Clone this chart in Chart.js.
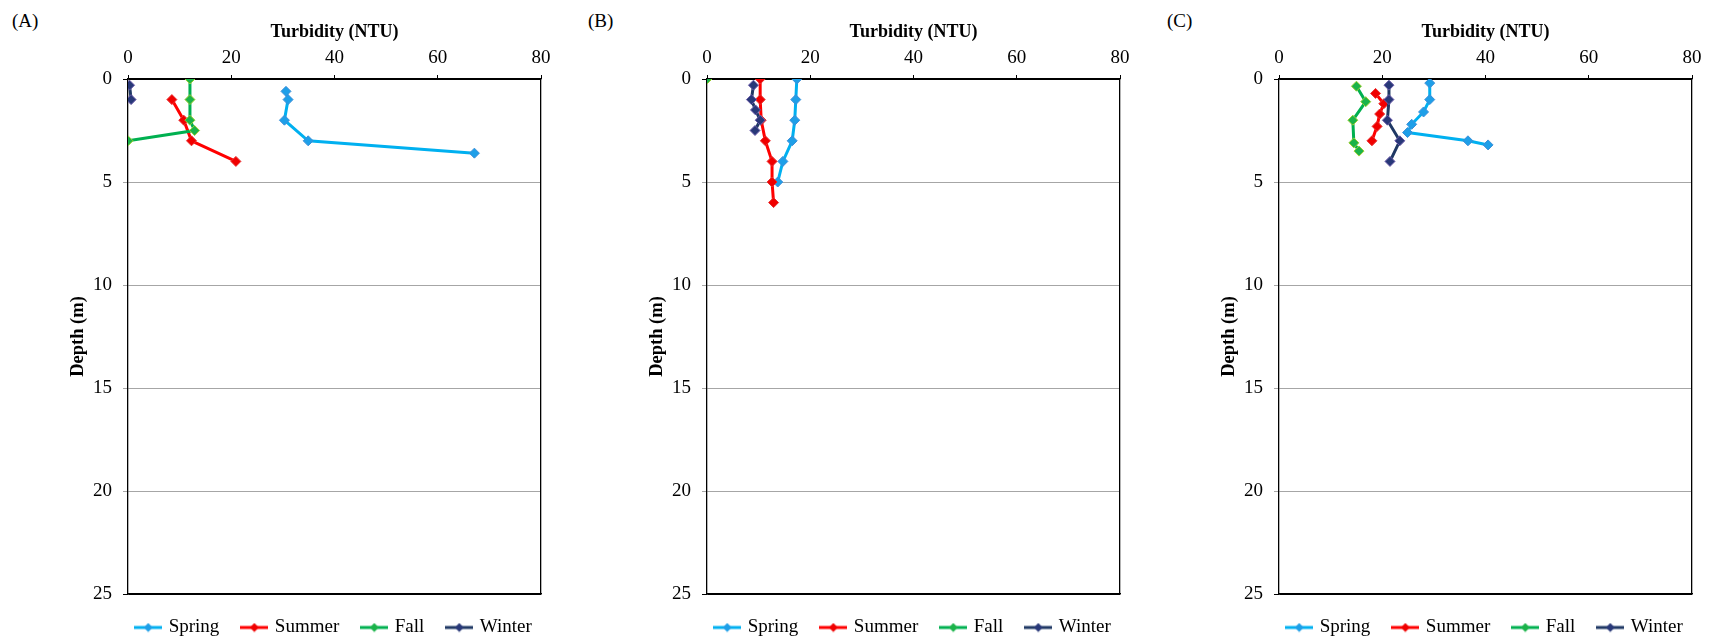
<!DOCTYPE html>
<html>
<head>
<meta charset="utf-8">
<script src="https://cdn.jsdelivr.net/npm/chart.js@4.4.1/dist/chart.umd.min.js"></script>
<style>
  body { margin: 0; background: #fff; width: 1711px; height: 641px; position: relative; overflow: hidden; font-family: "Liberation Serif", serif; }
  canvas { position: absolute; top: 0; }
  .lab { position: absolute; top: 11px; font-size: 19px; line-height: 19px; color: #000; }
</style>
</head>
<body>
<div class="lab" style="left:12px">(A)</div>
<div class="lab" style="left:588px">(B)</div>
<div class="lab" style="left:1167px">(C)</div>
<canvas id="chartA" width="559" height="641" style="left:0px"></canvas>
<canvas id="chartB" width="559" height="641" style="left:579px"></canvas>
<canvas id="chartC" width="559" height="641" style="left:1151px"></canvas>
<script>
const seasons = ['Spring', 'Summer', 'Fall', 'Winter'];
const turbidityTicks = [0, 20, 40, 60, 80];
const depthTicks = [0, 5, 10, 15, 20, 25];

// (A)
const springTurbA = [30.6, 31.0, 30.3, 34.9, 67.1];
const springDepthA = [0.6, 1, 2, 3, 3.6];
const summerTurbA = [8.5, 10.8, 12.3, 20.9];
const summerDepthA = [1, 2, 3, 4];
const fallTurbA = [12.0, 12.0, 12.0, 12.9, 0];
const fallDepthA = [0, 1, 2, 2.5, 3];
const winterTurbA = [0.3, 0.6];
const winterDepthA = [0.3, 1];

// (B)
const springTurbB = [17.4, 17.2, 17.0, 16.5, 14.7, 13.7];
const springDepthB = [0, 1, 2, 3, 4, 5];
const summerTurbB = [10.3, 10.3, 10.5, 11.3, 12.6, 12.6, 12.9];
const summerDepthB = [0, 1, 2, 3, 4, 5, 6];
const fallTurbB = [0];
const fallDepthB = [0];
const winterTurbB = [9.0, 8.6, 9.4, 10.3, 9.3];
const winterDepthB = [0.3, 1, 1.5, 2, 2.5];

// (C)
const springTurbC = [29.2, 29.2, 28.0, 25.7, 24.9, 36.6, 40.5];
const springDepthC = [0.2, 1, 1.6, 2.2, 2.6, 3, 3.2];
const summerTurbC = [18.7, 20.3, 19.5, 19.0, 18.0];
const summerDepthC = [0.7, 1.2, 1.7, 2.3, 3];
const fallTurbC = [15.0, 16.8, 14.3, 14.5, 15.5];
const fallDepthC = [0.35, 1.1, 2, 3.1, 3.5];
const winterTurbC = [21.3, 21.3, 21.0, 23.4, 21.5];
const winterDepthC = [0.3, 1, 2, 3, 4];

const lineColors = ['#00B0F0', '#FF0000', '#00B050', '#1F3864'];
const pointFills = ['#1E9FE8', '#F00000', '#1BB34A', '#283878'];
const pointEdges = ['#3C8FD8', '#E83030', '#9ACD32', '#6A5AA8'];
const FONT = '"Liberation Serif", "Times New Roman", serif';

function pts(turb, depth) {
  return turb.map((v, i) => ({ x: v, y: depth[i] }));
}

function legendIcon(i) {
  const c = document.createElement('canvas');
  c.width = 28; c.height = 10;
  const g = c.getContext('2d');
  g.strokeStyle = lineColors[i];
  g.lineWidth = 3;
  g.beginPath(); g.moveTo(0, 5); g.lineTo(28, 5); g.stroke();
  g.fillStyle = pointFills[i];
  g.beginPath(); g.moveTo(14, 0.5); g.lineTo(18.5, 5); g.lineTo(14, 9.5); g.lineTo(9.5, 5); g.closePath(); g.fill();
  return c;
}

// keep the legend centred under the plot area, not under the whole canvas
const centerLegend = {
  id: 'centerLegend',
  afterLayout(chart) {
    const l = chart.legend, ca = chart.chartArea;
    const half = (l.right - l.left) / 2, mid = (ca.left + ca.right) / 2;
    l.left = mid - half;
    l.right = mid + half;
  },
};

function makeChart(id, series) {
  const datasets = series.map((s, i) => ({
    label: seasons[i],
    data: pts(s[0], s[1]),
    showLine: true,
    borderColor: lineColors[i],
    backgroundColor: pointFills[i],
    borderWidth: 3,
    pointStyle: 'rectRot',
    pointRadius: 5,
    pointBackgroundColor: pointFills[i],
    pointBorderColor: pointEdges[i],
    pointBorderWidth: 1,
    tension: 0,
    order: 3 - i,
  }));

  return new Chart(document.getElementById(id), {
    type: 'scatter',
    data: { datasets },
    plugins: [centerLegend],
    options: {
      responsive: false,
      animation: false,
      devicePixelRatio: 1,
      layout: { padding: { left: 60, right: 18, top: 22, bottom: -6 } },
      plugins: {
        tooltip: { enabled: false },
        legend: {
          position: 'bottom',
          labels: {
            usePointStyle: true,
            pointStyleWidth: 22,
            padding: 24,
            color: '#000',
            font: { family: FONT, size: 19 },
            generateLabels: (chart) => chart.data.datasets.map((ds, i) => ({
              text: ds.label,
              pointStyle: legendIcon(i),
              fillStyle: 'transparent',
              strokeStyle: 'transparent',
              lineWidth: 0,
              fontColor: '#000',
              hidden: false,
              datasetIndex: i,
            })),
          },
        },
      },
      scales: {
        x: {
          type: 'linear',
          position: 'top',
          min: turbidityTicks[0],
          max: turbidityTicks[turbidityTicks.length - 1],
          ticks: { stepSize: turbidityTicks[1] - turbidityTicks[0], color: '#000', font: { family: FONT, size: 19 }, padding: 6, maxRotation: 0 },
          grid: { drawOnChartArea: false, drawTicks: true, tickLength: 4, color: '#000' },
          border: { color: '#000', width: 1.3 },
          title: { display: true, text: 'Turbidity (NTU)', color: '#000', font: { family: FONT, size: 18, weight: 'bold' }, padding: { top: 0, bottom: 0 } },
          afterFit: (s) => { s.height = 57; },
        },
        y: {
          type: 'linear',
          position: 'left',
          reverse: true,
          min: depthTicks[0],
          max: depthTicks[depthTicks.length - 1],
          ticks: { stepSize: depthTicks[1] - depthTicks[0], color: '#000', font: { family: FONT, size: 19 }, padding: 11 },
          grid: {
            color: (c) => (c.tick && (c.tick.value === 0 || c.tick.value === 25)) ? '#000' : '#A6A6A6',
            lineWidth: 1,
            tickLength: 5,
          },
          border: { color: '#000', width: 1.3 },
          title: { display: true, text: 'Depth (m)', color: '#000', font: { family: FONT, size: 18.5, weight: 'bold' }, padding: { top: 7, bottom: 0 } },
          afterFit: (s) => { s.width = 68; },
        },
        y2: {
          type: 'linear',
          position: 'right',
          ticks: { display: false },
          grid: { drawOnChartArea: false, drawTicks: false },
          border: { color: '#000', width: 1.3 },
          afterFit: (s) => { s.width = 0; },
        },
        x2: {
          type: 'linear',
          position: 'bottom',
          ticks: { display: false },
          grid: { drawOnChartArea: false, drawTicks: false },
          border: { color: '#000', width: 1.3 },
          afterFit: (s) => { s.height = 0; },
        },
      },
    },
  });
}

makeChart('chartA', [[springTurbA, springDepthA], [summerTurbA, summerDepthA], [fallTurbA, fallDepthA], [winterTurbA, winterDepthA]]);
makeChart('chartB', [[springTurbB, springDepthB], [summerTurbB, summerDepthB], [fallTurbB, fallDepthB], [winterTurbB, winterDepthB]]);
makeChart('chartC', [[springTurbC, springDepthC], [summerTurbC, summerDepthC], [fallTurbC, fallDepthC], [winterTurbC, winterDepthC]]);
</script>
</body>
</html>
